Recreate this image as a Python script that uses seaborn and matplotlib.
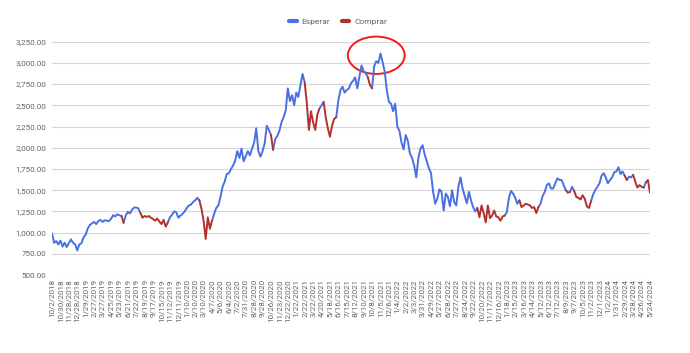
"""
Precio con señal Esperar / Comprar (oct 2018 - may 2024)
"""

import numpy as np
import pandas as pd
import matplotlib
matplotlib.use('Agg')
import matplotlib.pyplot as plt
import seaborn as sns
from matplotlib.patches import Ellipse
from matplotlib.lines import Line2D


## Data
# Tick labels (one every 20 sessions)
tick_dates = ['10/2/2018', '10/30/2018', '11/28/2018', '12/28/2018', '1/29/2019', '2/27/2019',
              '3/27/2019', '4/25/2019', '5/23/2019', '6/21/2019', '7/22/2019', '8/19/2019',
              '9/17/2019', '10/15/2019', '11/12/2019', '12/11/2019', '1/10/2020', '2/10/2020',
              '3/10/2020', '4/7/2020', '5/6/2020', '6/4/2020', '7/2/2020', '7/31/2020',
              '8/28/2020', '9/28/2020', '10/26/2020', '11/23/2020', '12/22/2020', '1/22/2021',
              '2/22/2021', '3/22/2021', '4/20/2021', '5/18/2021', '6/16/2021', '7/15/2021',
              '8/12/2021', '9/10/2021', '10/8/2021', '11/5/2021', '12/6/2021', '1/4/2022',
              '2/2/2022', '3/3/2022', '3/31/2022', '4/29/2022', '5/27/2022', '6/28/2022',
              '7/27/2022', '8/24/2022', '9/22/2022', '10/20/2022', '11/17/2022', '12/16/2022',
              '1/18/2023', '2/15/2023', '3/16/2023', '4/14/2023', '5/12/2023', '6/12/2023',
              '7/12/2023', '8/9/2023', '9/7/2023', '10/5/2023', '11/2/2023', '12/1/2023',
              '1/2/2024', '1/31/2024', '2/29/2024', '3/28/2024', '4/26/2024', '5/24/2024']

# Price, four readings per tick interval (about weekly)
price = [990, 880, 900, 860, 905, 835, 880, 830, 875, 920, 880, 860,
         790, 860, 875, 945, 975, 1050, 1090, 1110, 1125, 1100, 1135, 1150,
         1125, 1145, 1140, 1135, 1160, 1205, 1190, 1215, 1205, 1195, 1115, 1200,
         1245, 1225, 1270, 1295, 1295, 1285, 1230, 1175, 1195, 1185, 1195, 1175,
         1160, 1140, 1165, 1130, 1100, 1150, 1070, 1120, 1180, 1210, 1250, 1240,
         1175, 1200, 1220, 1250, 1290, 1320, 1330, 1360, 1380, 1410, 1380, 1280,
         1140, 925, 1180, 1045, 1140, 1220, 1290, 1320, 1420, 1540, 1600, 1690,
         1700, 1750, 1790, 1850, 1960, 1880, 1990, 1840, 1900, 1960, 1910, 1990,
         2060, 2230, 1960, 1895, 1960, 2050, 2260, 2210, 2150, 1975, 2100, 2140,
         2200, 2300, 2360, 2440, 2700, 2550, 2620, 2500, 2650, 2600, 2740, 2870,
         2770, 2530, 2210, 2430, 2300, 2210, 2390, 2460, 2500, 2540, 2360, 2230,
         2130, 2260, 2340, 2360, 2560, 2680, 2720, 2650, 2680, 2700, 2760, 2790,
         2830, 2700, 2840, 2970, 2900, 2880, 2830, 2740, 2700, 2960, 3020, 3000,
         3110, 3010, 2900, 2680, 2540, 2520, 2430, 2520, 2250, 2200, 2060, 1980,
         2150, 2080, 1930, 1880, 1790, 1650, 1880, 1990, 2030, 1920, 1840, 1760,
         1700, 1480, 1340, 1400, 1510, 1480, 1260, 1460, 1420, 1310, 1500, 1360,
         1320, 1540, 1650, 1520, 1430, 1345, 1480, 1380, 1300, 1250, 1290, 1180,
         1320, 1230, 1120, 1320, 1170, 1200, 1260, 1190, 1180, 1140, 1190, 1200,
         1240, 1410, 1490, 1460, 1410, 1340, 1380, 1300, 1320, 1340, 1330, 1320,
         1290, 1300, 1230, 1300, 1340, 1430, 1480, 1560, 1580, 1520, 1520, 1580,
         1640, 1620, 1620, 1560, 1500, 1470, 1480, 1540, 1490, 1420, 1410, 1390,
         1440, 1400, 1310, 1290, 1370, 1450, 1500, 1540, 1580, 1670, 1700, 1650,
         1580, 1620, 1650, 1710, 1720, 1770, 1690, 1720, 1670, 1620, 1660, 1650,
         1680, 1600, 1530, 1560, 1540, 1530, 1590, 1620, 1470]

# Periods flagged "Comprar" (first and last reading, inclusive)
comprar_spans = [(34, 34), (43, 55), (71, 76), (105, 105), (121, 127), (130, 135),
                 (151, 152), (203, 215), (223, 231), (245, 246), (249, 256),
                 (273, 273), (277, 281), (283, 284)]

# Hand drawn circle around the peak (data units)
circle_center = (154, 3090)
circle_size = (27, 440)


## Build runs so that each colour is drawn as its own line
n = len(price)
state = np.array(['Esperar'] * n, dtype=object)
for a, b in comprar_spans:
    state[a:b + 1] = 'Comprar'
run = np.concatenate([[0], np.cumsum(state[1:] != state[:-1])])

rows = []
for r in np.unique(run):
    idx = list(np.where(run == r)[0])
    if idx[0] > 0:
        idx = [idx[0] - 1] + idx
    sig = state[idx[-1]]
    for i in idx:
        rows.append({'step': i, 'price': price[i], 'signal': sig, 'run': r})
df = pd.DataFrame(rows)


## Figure
sns.set_theme(style='white')
plt.rcParams['font.family'] = ['Roboto', 'DejaVu Sans']

colors = {'Esperar': '#4a6fe3', 'Comprar': '#b3302b'}
text_col = '#5f6368'

fig = plt.figure(figsize=(6.9, 3.53), dpi=100)
ax = fig.add_axes([52 / 690, 1 - 275 / 353, 598 / 690, 233.3 / 353])

sns.lineplot(data=df, x='step', y='price', hue='signal', units='run', estimator=None,
             palette=colors, linewidth=1.4, legend=False, sort=False, ax=ax)

# Red hand drawn mark
ax.add_patch(Ellipse(circle_center, circle_size[0], circle_size[1], fill=False,
                     edgecolor='#ee1c1c', linewidth=1.4, clip_on=False))

# Axes
ax.set_ylim(500, 3250)
yt = np.arange(500, 3251, 250)
ax.set_yticks(yt)
ax.set_yticklabels([f"{v:,.2f}" for v in yt], fontsize=5.8, color=text_col)
ax.set_xlim(0, n - 1)
ax.set_xticks(np.arange(0, n, 4))
ax.set_xticklabels(tick_dates, rotation=90, fontsize=5.8, color=text_col)
ax.set_xlabel('')
ax.set_ylabel('')

ax.yaxis.grid(True, color='#d6d6d6', linewidth=0.8)
ax.xaxis.grid(False)
for s in ax.spines.values():
    s.set_visible(False)
ax.tick_params(axis='y', length=0, pad=4)
ax.tick_params(axis='x', length=2, color='#c8c8c8', pad=1)

# Legend on top
handles = [Line2D([], [], color=colors[k], lw=3) for k in ['Esperar', 'Comprar']]
fig.legend(handles, ['Esperar', 'Comprar'], loc='center', bbox_to_anchor=(0.49, 0.94),
           ncol=2, frameon=False, fontsize=6, handlelength=0.9, handletextpad=0.6,
           columnspacing=1.4, labelcolor=text_col)

fig.savefig('out.png', dpi=100)
